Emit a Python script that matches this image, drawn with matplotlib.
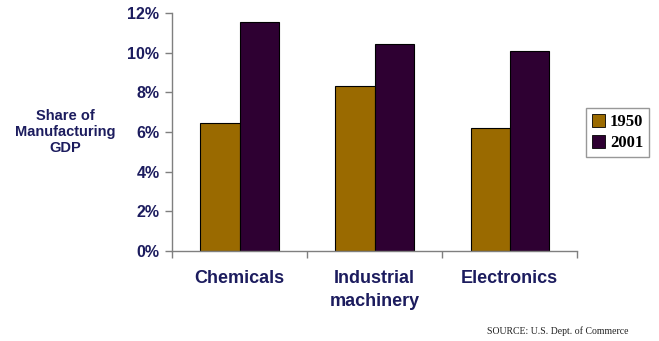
import matplotlib

matplotlib.use("Agg")
import matplotlib.pyplot as plt
import numpy as np
from matplotlib.patches import Patch
from matplotlib.ticker import FuncFormatter

# Share of manufacturing GDP by industry, percent
categories = ["Chemicals", "Industrial\nmachinery", "Electronics"]
years = ["1950", "2001"]
share_1950 = [6.45, 8.3, 6.2]
share_2001 = [11.55, 10.45, 10.1]

NAVY = "#1c1c5e"
GOLD = "#9a6a00"
PLUM = "#2e0032"
AXIS = "#7f7f7f"

fig = plt.figure(figsize=(6.59, 3.41), dpi=100)
fig.patch.set_facecolor("white")
ax = fig.add_axes([0.261, 0.264, 0.615, 0.698])

x = np.arange(len(categories))
w = 0.29
ax.bar(x - w / 2, share_1950, w, color=GOLD, edgecolor="black", linewidth=0.8)
ax.bar(x + w / 2, share_2001, w, color=PLUM, edgecolor="black", linewidth=0.8)

ax.set_xlim(-0.5, 2.5)
ax.set_ylim(0, 12)
ax.set_yticks(range(0, 13, 2))
ax.yaxis.set_major_formatter(FuncFormatter(lambda v, _: f"{v:.0f}%"))
ax.set_xticks([-0.5, 0.5, 1.5, 2.5])
ax.set_xticklabels([])
ax.tick_params(axis="both", direction="out", length=5, width=1, color=AXIS)
ax.tick_params(axis="y", labelsize=11.5, labelcolor=NAVY, pad=4)
for lab in ax.get_yticklabels():
    lab.set_fontweight("bold")
    lab.set_family("Liberation Sans")

for side in ("top", "right"):
    ax.spines[side].set_visible(False)
for side in ("left", "bottom"):
    ax.spines[side].set_color(AXIS)
    ax.spines[side].set_linewidth(1)

# category names sit below the axis, between the boundary ticks
for xi, name in zip(x, categories):
    ax.text(xi, -0.98, name, ha="center", va="top", fontsize=13,
            fontweight="bold", color=NAVY, family="Liberation Sans",
            linespacing=1.45)

fig.text(0.099, 0.613, "Share of\nManufacturing\nGDP", ha="center",
         va="center", fontsize=10.5, fontweight="bold", color=NAVY,
         family="Liberation Sans", linespacing=1.2)

handles = [Patch(facecolor=GOLD, edgecolor="black", linewidth=0.6),
           Patch(facecolor=PLUM, edgecolor="black", linewidth=0.6)]
leg = fig.legend(handles, years, loc="center", bbox_to_anchor=(0.937, 0.611),
                 frameon=True, fancybox=False, handlelength=0.8,
                 handleheight=0.8, handletextpad=0.3, borderpad=0.35,
                 labelspacing=0.3, borderaxespad=0,
                 prop={"family": "Liberation Serif", "weight": "bold",
                       "size": 12})
leg.get_frame().set_edgecolor(AXIS)
leg.get_frame().set_linewidth(1)

fig.text(0.739, 0.03, "SOURCE: U.S. Dept. of Commerce", ha="left", va="center",
         fontsize=7, color="#222222", family="Liberation Serif")

fig.savefig("out.png", dpi=100, facecolor="white")
